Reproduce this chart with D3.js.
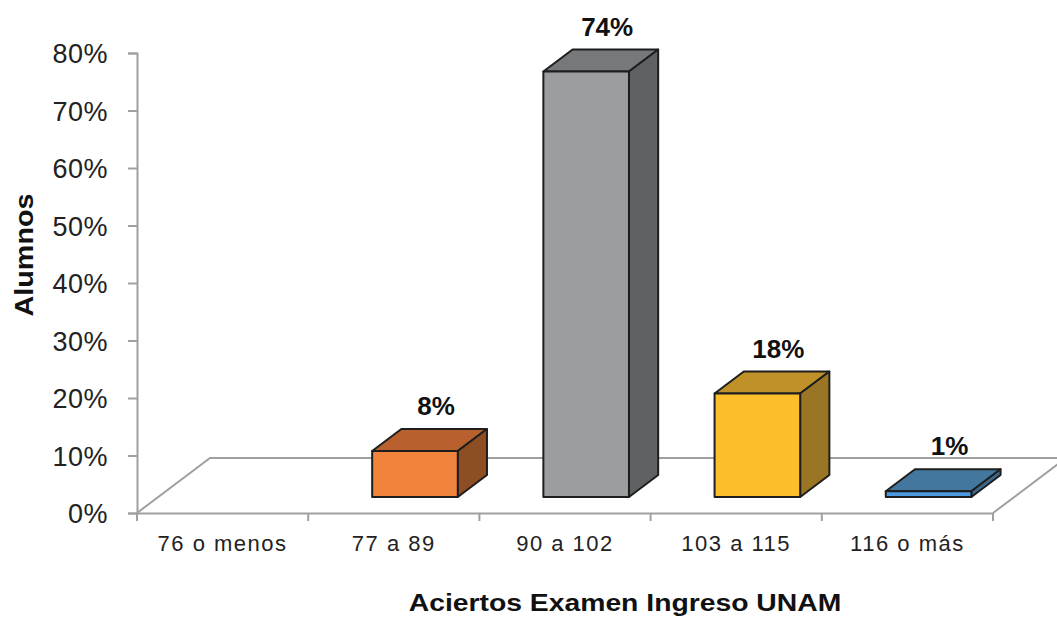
<!DOCTYPE html>
<html>
<head>
<meta charset="utf-8">
<script src="https://cdn.jsdelivr.net/npm/d3@7"></script>
<style>
  body { margin: 0; background: #fff; }
  svg { font-family: "Liberation Sans", Arial, sans-serif; }
</style>
</head>
<body>
<svg id="chart" width="1057" height="625"></svg>
<script>
var categories = ['76 o menos', '77 a 89', '90 a 102', '103 a 115', '116 o más'];
var values = [0, 0.08, 0.74, 0.18, 0.01];
var labels = ['', '8%', '74%', '18%', '1%'];
var yTicks = [0, 0.1, 0.2, 0.3, 0.4, 0.5, 0.6, 0.7, 0.8];

// face colours: front, top, side
var colors = [
  ['#ccc', '#aaa', '#888'],
  ['#f0843c', '#b8602e', '#8e4e24'],
  ['#9a9e9f', '#76797b', '#5e6263'],
  ['#fdbe2c', '#bf9128', '#9a7624'],
  ['#4c9be0', '#44779e', '#3a6a90']
];

var svg = d3.select('#chart');
var plotLeft = 137, plotRight = 993, plotBottom = 513, plotTop = 53;
var depthX = 73, depthY = -55;

var x = d3.scaleBand().domain(categories).range([plotLeft, plotRight]);
var y = d3.scaleLinear().domain([0, 0.8]).range([plotBottom, plotTop]);

var axisColor = '#a0a0a0';

// floor
var floor = svg.append('g').attr('stroke', axisColor).attr('stroke-width', 2).attr('fill', 'none');
floor.append('path').attr('d', 'M' + plotLeft + ',' + plotBottom + 'L' + (plotLeft + depthX) + ',' + (plotBottom + depthY) +
  'L' + (plotRight + depthX) + ',' + (plotBottom + depthY) + 'L' + plotRight + ',' + plotBottom);

// y axis
svg.append('g')
  .attr('transform', 'translate(' + plotLeft + ',0)')
  .call(d3.axisLeft(y).tickValues(yTicks).tickFormat(d3.format('.0%')).tickSizeOuter(0).tickSize(9).tickPadding(20))
  .call(function(g) {
    g.select('.domain').attr('stroke', axisColor).attr('stroke-width', 2);
    g.selectAll('.tick line').attr('stroke', axisColor).attr('stroke-width', 2);
    g.selectAll('.tick text').attr('fill', '#222').attr('dy', '0.36em')
      .style('font-size', '27px').style('letter-spacing', '0.5px');
  });

// x axis
svg.append('g')
  .attr('transform', 'translate(0,' + plotBottom + ')')
  .call(d3.axisBottom(x).tickSize(0).tickSizeOuter(0).tickPadding(22))
  .call(function(g) {
    g.select('.domain').attr('stroke', axisColor).attr('stroke-width', 2);
    g.selectAll('.tick text').attr('fill', '#222').style('font-size', '22px').style('letter-spacing', '1.5px');
  });

// x tick marks at category boundaries
svg.append('g').selectAll('line')
  .data(d3.range(categories.length + 1))
  .enter().append('line')
  .attr('x1', function(i) { return plotLeft + i * x.bandwidth(); })
  .attr('x2', function(i) { return plotLeft + i * x.bandwidth(); })
  .attr('y1', plotBottom).attr('y2', plotBottom + 8)
  .attr('stroke', axisColor).attr('stroke-width', 2);

// bars
var f0 = 0.29, f1 = 0.69;
var bw = x.bandwidth() * 0.5;
var bars = svg.append('g').attr('stroke', '#1e1e1e').attr('stroke-width', 2).attr('stroke-linejoin', 'round');

categories.forEach(function(c, i) {
  var v = values[i];
  if (v <= 0) return;
  var cx = x(c) + x.bandwidth() / 2 + depthX * f0;
  var yb = plotBottom + depthY * f0;
  var h = plotBottom - y(v);
  var x0 = cx - bw / 2, x1 = cx + bw / 2, yt = yb - h;
  var ox = depthX * (f1 - f0), oy = depthY * (f1 - f0);
  bars.append('path').attr('fill', colors[i][1])
    .attr('d', 'M' + x0 + ',' + yt + 'L' + (x0 + ox) + ',' + (yt + oy) + 'L' + (x1 + ox) + ',' + (yt + oy) + 'L' + x1 + ',' + yt + 'Z');
  bars.append('path').attr('fill', colors[i][2])
    .attr('d', 'M' + x1 + ',' + yt + 'L' + (x1 + ox) + ',' + (yt + oy) + 'L' + (x1 + ox) + ',' + (yb + oy) + 'L' + x1 + ',' + yb + 'Z');
  bars.append('rect').attr('fill', colors[i][0])
    .attr('x', x0).attr('y', yt).attr('width', bw).attr('height', h);
  svg.append('text')
    .attr('x', cx + 21).attr('y', yt + oy - 14)
    .attr('text-anchor', 'middle')
    .style('font-size', '26px').style('font-weight', 'bold').attr('fill', '#111')
    .text(labels[i]);
});

// axis titles
svg.append('text')
  .attr('transform', 'translate(625,611) scale(1.18,1)')
  .attr('text-anchor', 'middle')
  .style('font-size', '24px').style('font-weight', 'bold').attr('fill', '#111')
  .text('Aciertos Examen Ingreso UNAM');

svg.append('text')
  .attr('transform', 'translate(33,255) rotate(-90) scale(1.15,1)')
  .attr('text-anchor', 'middle')
  .style('font-size', '25px').style('font-weight', 'bold').attr('fill', '#111')
  .text('Alumnos');
</script>
</body>
</html>
